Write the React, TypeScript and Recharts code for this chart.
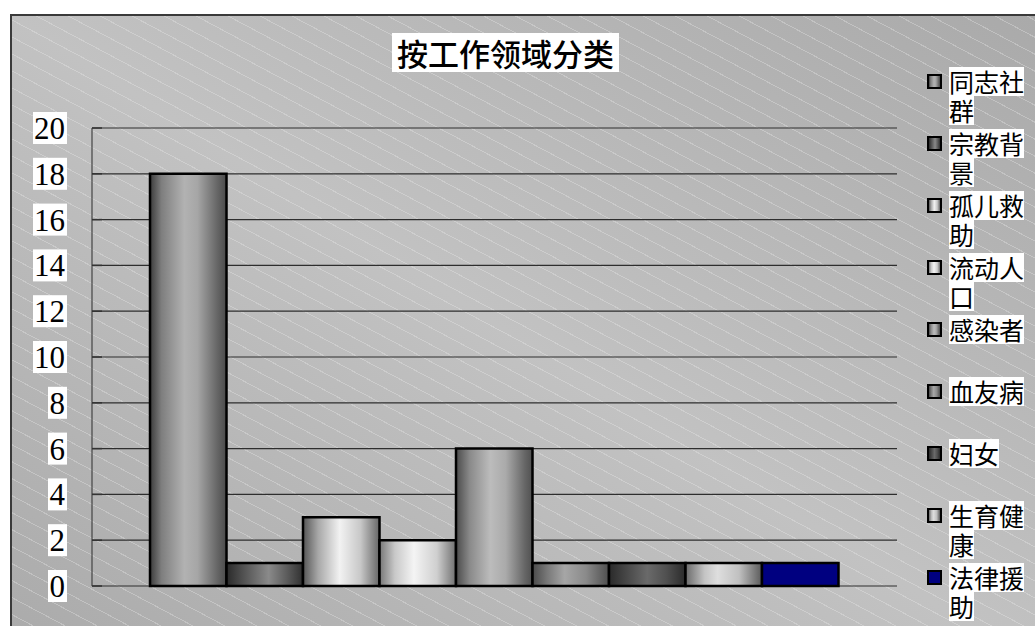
import React from 'react';
import { BarChart, Bar, XAxis, YAxis, CartesianGrid, Legend } from 'recharts';

const title = '按工作领域分类';
const categories = ['同志社群', '宗教背景', '孤儿救助', '流动人口', '感染者', '血友病', '妇女', '生育健康', '法律援助'];
const values = [18, 1, 3, 2, 6, 1, 1, 1, 1];
const yTicks = [0, 2, 4, 6, 8, 10, 12, 14, 16, 18, 20];

// style: horizontal gradient stops per series
const gradientStops: [number, string][][] = [
  [[0, '#3c3c3c'], [0.15, '#7e7e7e'], [0.45, '#b2b2b2'], [0.62, '#a6a6a6'], [0.88, '#666666'], [1, '#4a4a4a']],
  [[0, '#2a2a2a'], [0.2, '#4e4e4e'], [0.55, '#8a8a8a'], [0.8, '#5a5a5a'], [1, '#303030']],
  [[0, '#555555'], [0.2, '#a8a8a8'], [0.48, '#f2f2f2'], [0.75, '#c8c8c8'], [1, '#666666']],
  [[0, '#777777'], [0.2, '#c8c8c8'], [0.45, '#f4f4f4'], [0.75, '#cfcfcf'], [1, '#707070']],
  [[0, '#4a4a4a'], [0.18, '#8a8a8a'], [0.45, '#bcbcbc'], [0.65, '#aaaaaa'], [0.9, '#666666'], [1, '#505050']],
  [[0, '#4a4a4a'], [0.2, '#7a7a7a'], [0.42, '#a6a6a6'], [0.7, '#8a8a8a'], [1, '#4e4e4e']],
  [[0, '#2a2a2a'], [0.25, '#4a4a4a'], [0.5, '#6a6a6a'], [0.75, '#505050'], [1, '#2a2a2a']],
  [[0, '#6a6a6a'], [0.25, '#c4c4c4'], [0.42, '#dedede'], [0.7, '#c0c0c0'], [1, '#5a5a5a']],
  [[0, '#000080'], [1, '#000080']],
];

const seriesKeys = categories.map((_, i) => `s${i}`);
const row: Record<string, number | string> = { name: '' };
seriesKeys.forEach((k, i) => {
  row[k] = values[i];
});
const data = [row];

const cssGradient = (stops: [number, string][]) =>
  `linear-gradient(to right, ${stops.map(([o, c]) => `${c} ${o * 100}%`).join(', ')})`;

const YTick = (props: any) => {
  const { x, y, payload } = props;
  const label = String(payload.value);
  const w = label.length * 15 + 4;
  return (
    <g>
      <line x1={x} x2={x + 10} y1={y} y2={y} stroke="#333" strokeWidth={1.5} />
      <rect x={x - 25 - w} y={y - 16} width={w} height={32} fill="#ffffff" />
      <text
        x={x - 27}
        y={y + 11}
        textAnchor="end"
        fontFamily="'Liberation Serif', 'DejaVu Serif', serif"
        fontSize={31}
        fill="#000"
      >
        {label}
      </text>
    </g>
  );
};

const splitLines = (s: string, n: number) => {
  const out: string[] = [];
  for (let i = 0; i < s.length; i += n) out.push(s.slice(i, i + n));
  return out;
};

const LegendContent = () => (
  <div style={{ width: 108 }}>
    {categories.map((c, i) => (
      <div key={c} style={{ height: 62, display: 'flex', alignItems: 'flex-start' }}>
        <div
          style={{
            width: 11,
            height: 11,
            marginTop: 7,
            marginRight: 7,
            border: '2.5px solid #000',
            background: cssGradient(gradientStops[i]),
            flex: 'none',
          }}
        />
        <div>
          {splitLines(c, 3).map((l, j) => (
            <div
              key={j}
              style={{
                background: '#fff',
                height: 29,
                lineHeight: '29px',
                fontSize: 25,
                fontFamily: "'Noto Sans CJK SC', sans-serif",
                color: '#000',
                width: 'fit-content',
                whiteSpace: 'nowrap',
              }}
            >
              {l}
            </div>
          ))}
        </div>
      </div>
    ))}
  </div>
);

export default function App() {
  return (
    <div
      style={{
        position: 'fixed',
        left: 0,
        top: 0,
        width: 1035,
        height: 626,
        overflow: 'hidden',
        background: '#ffffff',
      }}
    >
      <div
        style={{
          position: 'absolute',
          left: 10,
          top: 14,
          width: 1100,
          height: 700,
          borderLeft: '2px solid #3a3a3a',
          borderTop: '2px solid #3a3a3a',
          backgroundImage:
            'repeating-linear-gradient(28deg, rgba(255,255,255,0) 0px, rgba(255,255,255,0) 14px, rgba(236,236,236,0.32) 14px, rgba(236,236,236,0.32) 15px), linear-gradient(to bottom left, #a8a8a8 0%, #c2c2c2 50%, #a8a8a8 100%)',
        }}
      />
      <div
        style={{
          position: 'absolute',
          left: 392,
          top: 33,
          width: 227,
          height: 39,
          lineHeight: '39px',
          background: '#fff',
          textAlign: 'center',
          fontSize: 31,
          fontWeight: 500,
          fontFamily: "'Noto Sans CJK SC', sans-serif",
          color: '#000',
          whiteSpace: 'nowrap',
        }}
      >
        {title}
      </div>
      <div style={{ position: 'absolute', left: 0, top: 0 }}>
        <BarChart
          width={1035}
          height={626}
          data={data}
          margin={{ top: 128, right: 138, bottom: 40, left: 12 }}
          barSize={76.5}
          barGap={0}
        >
          <defs>
            {gradientStops.map((stops, i) => (
              <linearGradient key={i} id={`g${i}`} x1="0" y1="0" x2="1" y2="0">
                {stops.map(([o, c], j) => (
                  <stop key={j} offset={o} stopColor={c} />
                ))}
              </linearGradient>
            ))}
          </defs>
          <CartesianGrid horizontal vertical={false} stroke="#2e2e2e" strokeWidth={1.2} />
          <XAxis dataKey="name" height={0} tick={false} tickLine={false} axisLine={{ stroke: '#000', strokeWidth: 1.5 }} />
          <YAxis
            width={80}
            domain={[0, 20]}
            ticks={yTicks}
            interval={0}
            tickSize={0}
            tickMargin={0}
            tickLine={false}
            axisLine={{ stroke: '#444', strokeWidth: 1.2 }}
            tick={<YTick />}
          />
          <Legend
            layout="vertical"
            align="center"
            verticalAlign="middle"
            content={<LegendContent />}
            wrapperStyle={{ left: 927, top: 67, width: 108, height: 560 }}
          />
          {seriesKeys.map((k, i) => (
            <Bar
              key={k}
              dataKey={k}
              name={categories[i]}
              fill={`url(#g${i})`}
              stroke="#000"
              strokeWidth={2.5}
              isAnimationActive={false}
            />
          ))}
        </BarChart>
      </div>
    </div>
  );
}
